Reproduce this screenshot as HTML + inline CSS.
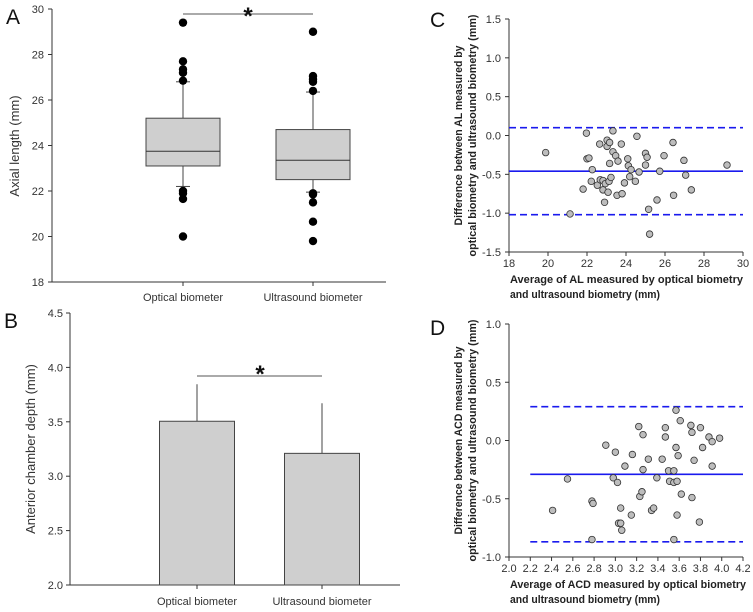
<!DOCTYPE html>
<html><head><meta charset="utf-8"><style>
html,body{margin:0;padding:0;background:#fff}
svg{display:block;font-family:"Liberation Sans",Arial,sans-serif}
.tk{font-size:11px;fill:#333}
.bt{font-size:11px;font-weight:bold;fill:#222}
</style></head><body>
<svg id="fig" width="753" height="612" viewBox="0 0 753 612">
<g id="pA"></g>
<g id="pB"></g>
<g id="pC"></g>
<g id="pD"></g>
</svg>
<script>
const boxCategories=["Optical biometer","Ultrasound biometer"];
const boxQ1=[23.1,22.5];
const boxMedian=[23.75,23.35];
const boxQ3=[25.2,24.7];
const boxWhiskerLow=[22.2,21.95];
const boxWhiskerHigh=[26.8,26.35];
const boxOutliers=[[29.4,27.7,27.35,27.2,26.85,22.0,21.9,21.65,20.0],[29.0,27.05,26.9,26.8,26.4,21.9,21.85,21.5,20.65,19.8]];
const aTicks=[18,20,22,24,26,28,30];

const barCategories=["Optical biometer","Ultrasound biometer"];
const barMeans=[3.505,3.21];
const barSD=[0.34,0.46];
const bTicks=["2.0","2.5","3.0","3.5","4.0","4.5"];

const cX=[19.88,21.97,22.0,22.1,21.13,21.8,22.27,22.22,22.53,22.65,22.68,22.82,22.82,22.9,22.94,23.03,23.03,23.08,23.13,23.16,23.16,23.23,23.33,23.33,23.47,23.54,23.59,23.76,23.8,23.92,24.09,24.12,24.19,24.26,24.48,24.56,24.67,25.0,25.08,25.0,25.16,25.21,25.59,25.73,25.95,26.41,26.44,26.97,27.06,27.35,29.18];
const cY=[-0.22,0.03,-0.30,-0.29,-1.01,-0.69,-0.44,-0.59,-0.64,-0.11,-0.57,-0.58,-0.70,-0.86,-0.62,-0.06,-0.14,-0.73,-0.59,-0.09,-0.36,-0.54,0.06,-0.21,-0.26,-0.77,-0.33,-0.11,-0.75,-0.61,-0.30,-0.39,-0.53,-0.44,-0.59,-0.01,-0.47,-0.23,-0.28,-0.38,-0.95,-1.27,-0.83,-0.46,-0.26,-0.09,-0.77,-0.32,-0.51,-0.70,-0.38];
const cLines=[0.1,-0.46,-1.02];
const cXTicks=["18","20","22","24","26","28","30"];
const cYTicks=["-1.5","-1.0","-0.5","0.0","0.5","1.0","1.5"];

const dX=[2.41,2.55,2.78,2.79,2.78,2.91,3.00,2.98,3.02,3.05,3.03,3.05,3.06,3.09,3.16,3.15,3.22,3.23,3.25,3.26,3.26,3.31,3.34,3.36,3.39,3.44,3.47,3.47,3.50,3.51,3.55,3.55,3.55,3.57,3.57,3.58,3.58,3.59,3.61,3.62,3.71,3.72,3.72,3.74,3.79,3.80,3.82,3.88,3.91,3.91,3.98];
const dY=[-0.60,-0.33,-0.52,-0.54,-0.85,-0.04,-0.10,-0.32,-0.36,-0.58,-0.71,-0.71,-0.77,-0.22,-0.12,-0.64,0.12,-0.48,-0.44,0.05,-0.25,-0.16,-0.60,-0.58,-0.32,-0.16,0.11,0.03,-0.26,-0.35,-0.26,-0.36,-0.85,-0.06,0.26,-0.35,-0.64,-0.13,0.17,-0.46,0.13,0.07,-0.49,-0.17,-0.70,0.11,-0.06,0.03,-0.01,-0.22,0.02];
const dLines=[0.29,-0.29,-0.87];
const dXTicks=["2.0","2.2","2.4","2.6","2.8","3.0","3.2","3.4","3.6","3.8","4.0","4.2"];
const dYTicks=["-1.0","-0.5","0.0","0.5","1.0"];

const NS="http://www.w3.org/2000/svg";
function mk(parent,tag,attrs,text){const e=document.createElementNS(NS,tag);for(const k in attrs)e.setAttribute(k,attrs[k]);if(text!==undefined)e.textContent=text;parent.appendChild(e);return e;}
function lin(d0,d1,r0,r1){return v=>r0+(v-d0)*(r1-r0)/(d1-d0);}

/* Panel A */
(function(){
const g=document.getElementById('pA');
const y=lin(18,30,282,9);const xc=[183,313];
let t=mk(g,'text',{x:6,y:24,'font-size':21,fill:'#111'},'A');


mk(g,'line',{x1:52,y1:9,x2:52,y2:282,stroke:'#333'});
mk(g,'line',{x1:52,y1:282,x2:386,y2:282,stroke:'#333'});
aTicks.forEach(v=>{mk(g,'line',{x1:48,x2:52,y1:y(v),y2:y(v),stroke:'#333'});
 const l=mk(g,'text',{x:44,y:y(v)+4,'text-anchor':'end',class:'tk'},String(v));
 
 });
t=mk(g,'text',{transform:'translate(19,146) rotate(-90)','text-anchor':'middle','font-size':13,fill:'#333'},'Axial length (mm)');


boxCategories.forEach((c,i)=>{
 const cx=xc[i];
 mk(g,'line',{x1:cx,x2:cx,y1:282,y2:286,stroke:'#333'});
 const l=mk(g,'text',{x:cx,y:301,'text-anchor':'middle',class:'tk'},c);
 
 
 mk(g,'line',{x1:cx,x2:cx,y1:y(boxWhiskerLow[i]),y2:y(boxWhiskerHigh[i]),stroke:'#444'});
 mk(g,'line',{x1:cx-7,x2:cx+7,y1:y(boxWhiskerLow[i]),y2:y(boxWhiskerLow[i]),stroke:'#444'});
 mk(g,'line',{x1:cx-7,x2:cx+7,y1:y(boxWhiskerHigh[i]),y2:y(boxWhiskerHigh[i]),stroke:'#444'});
 const b=mk(g,'rect',{x:cx-37,y:y(boxQ3[i]),width:74,height:y(boxQ1[i])-y(boxQ3[i]),fill:'#cfcfcf',stroke:'#444'});
 
 
 mk(g,'line',{x1:cx-37,x2:cx+37,y1:y(boxMedian[i]),y2:y(boxMedian[i]),stroke:'#333'});
 boxOutliers[i].forEach(v=>{const p=mk(g,'circle',{cx:cx,cy:y(v),r:4.2,fill:'#000'});
  
  });
});
mk(g,'line',{x1:183,x2:313,y1:14,y2:14,stroke:'#555'});
t=mk(g,'text',{x:248,y:24,'text-anchor':'middle','font-size':24,'font-weight':'bold',fill:'#111'},'*');


})();

/* Panel B */
(function(){
const g=document.getElementById('pB');
const y=lin(2,4.5,585,313);const xc=[197,322];
let t=mk(g,'text',{x:4,y:328,'font-size':21,fill:'#111'},'B');


mk(g,'line',{x1:70,y1:313,x2:70,y2:585,stroke:'#333'});
mk(g,'line',{x1:70,y1:585,x2:400,y2:585,stroke:'#333'});
bTicks.forEach(s=>{const v=parseFloat(s);mk(g,'line',{x1:66,x2:70,y1:y(v),y2:y(v),stroke:'#333'});
 const l=mk(g,'text',{x:63,y:y(v)+4,'text-anchor':'end',class:'tk'},s);
 
 });
t=mk(g,'text',{transform:'translate(35,449) rotate(-90)','text-anchor':'middle','font-size':13,fill:'#333'},'Anterior chamber depth (mm)');


barCategories.forEach((c,i)=>{
 const cx=xc[i];
 mk(g,'line',{x1:cx,x2:cx,y1:y(barMeans[i]),y2:y(barMeans[i]+barSD[i]),stroke:'#444'});
 const b=mk(g,'rect',{x:cx-37.5,y:y(barMeans[i]),width:75,height:585-y(barMeans[i]),fill:'#cfcfcf',stroke:'#444'});
 
 
 mk(g,'line',{x1:cx,x2:cx,y1:585,y2:589,stroke:'#333'});
 const l=mk(g,'text',{x:cx,y:605,'text-anchor':'middle',class:'tk'},c);
 
 
});
mk(g,'line',{x1:197,x2:322,y1:376,y2:376,stroke:'#555'});
t=mk(g,'text',{x:260,y:382,'text-anchor':'middle','font-size':24,'font-weight':'bold',fill:'#111'},'*');


})();

/* Bland-Altman */
function ba(g,letter,ly,x0,x1,y0,y1,top,bot,xTicks,yTicks,X,Y,L,lineStart,t1,t2,t3,t4,w1,w2,w3,w4){
 const x=lin(x0,x1,509,743),y=lin(y0,y1,bot,top);
 let t=mk(g,'text',{x:430,y:ly,'font-size':21,fill:'#111'},letter);
 
 
 mk(g,'line',{x1:509,y1:top,x2:509,y2:bot,stroke:'#333'});
 mk(g,'line',{x1:509,y1:bot,x2:743,y2:bot,stroke:'#333'});
 xTicks.forEach(s=>{const v=parseFloat(s);mk(g,'line',{x1:x(v),x2:x(v),y1:bot,y2:bot+4,stroke:'#333'});
  const l=mk(g,'text',{x:x(v),y:bot+15,'text-anchor':'middle',class:'tk'},s);
  
  });
 yTicks.forEach(s=>{const v=parseFloat(s);mk(g,'line',{x1:505,x2:509,y1:y(v),y2:y(v),stroke:'#333'});
  const l=mk(g,'text',{x:501,y:y(v)+4,'text-anchor':'end',class:'tk'},s);
  
  });
 L.forEach((v,i)=>{const ln=mk(g,'line',{x1:x(lineStart),x2:743,y1:y(v),y2:y(v),stroke:'#1a1aee','stroke-width':1.6});
  if(i!==1)ln.setAttribute('stroke-dasharray','7,4');
  
  });
 X.forEach((v,i)=>{const p=mk(g,'circle',{cx:x(v),cy:y(Y[i]),r:3.3,fill:'#bdbdbd',stroke:'#333','stroke-width':0.8});
  
  });
 const cy=(top+bot)/2;
 t=mk(g,'text',{transform:`translate(462,${cy}) rotate(-90)`,'text-anchor':'middle',class:'bt',textLength:w1,lengthAdjust:'spacingAndGlyphs'},t1);
 
 
 t=mk(g,'text',{transform:`translate(476,${cy}) rotate(-90)`,'text-anchor':'middle',class:'bt',textLength:w2,lengthAdjust:'spacingAndGlyphs'},t2);
 
 
 t=mk(g,'text',{x:510,y:bot+31,class:'bt',textLength:w3,lengthAdjust:'spacingAndGlyphs'},t3);
 
 
 t=mk(g,'text',{x:510,y:bot+46,class:'bt',textLength:w4,lengthAdjust:'spacingAndGlyphs'},t4);
 
 
}
ba(document.getElementById('pC'),'C',27,18,30,-1.5,1.5,19,252,cXTicks,cYTicks,cX,cY,cLines,18,
 'Difference between AL measured by','optical biometry and ultrasound biometry (mm)',
 'Average of AL measured by optical biometry','and ultrasound biometry (mm)',180,242,233,150);
ba(document.getElementById('pD'),'D',335,2.0,4.2,-1.0,1.0,324,557,dXTicks,dYTicks,dX,dY,dLines,2.2,
 'Difference between ACD measured by','optical biometry and ultrasound biometry (mm)',
 'Average of ACD measured by optical biometry','and ultrasound biometry (mm)',188,242,236,150);
</script>
</body></html>
